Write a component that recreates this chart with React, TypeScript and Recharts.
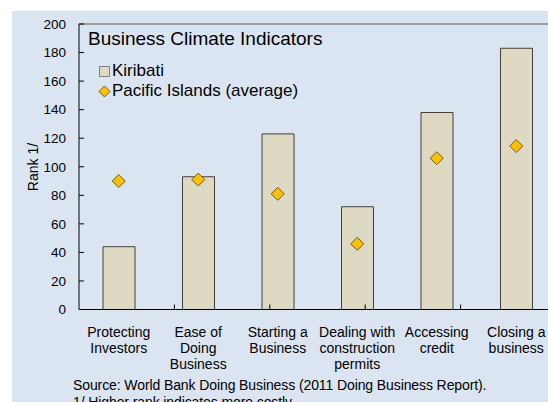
import { ComposedChart, Bar, Line, XAxis, YAxis, ReferenceLine, Legend } from 'recharts'

const categories = [
  'Protecting\nInvestors',
  'Ease of\nDoing\nBusiness',
  'Starting a\nBusiness',
  'Dealing with\nconstruction\npermits',
  'Accessing\ncredit',
  'Closing a\nbusiness',
]
const kiribati = [44, 93, 123, 72, 138, 183]
const pacific = [90, 91, 81, 46, 106, 114.5]
const yTicks = [0, 20, 40, 60, 80, 100, 120, 140, 160, 180, 200]
const boundaries = [1, 2, 3, 4, 5]

const data = categories.map((name, i) => ({ name, kiribati: kiribati[i], pacific: pacific[i] }))

const FONT = '"Liberation Sans", Arial, sans-serif'
const BAR_FILL = '#ddd9c3'
const DIAMOND_FILL = '#ffc000'

const Diamond = ({ cx, cy, r = 6.5 }: { cx?: number; cy?: number; r?: number }) => {
  if (cx == null || cy == null) return null
  return (
    <polygon
      points={`${cx},${cy - r} ${cx + r},${cy} ${cx},${cy + r} ${cx - r},${cy}`}
      fill={DIAMOND_FILL}
      stroke="#6b5a1e"
      strokeWidth={1}
    />
  )
}

// category labels split over several lines
const CatTick = ({ x, y, payload }: any) => {
  const lines = String(payload.value).split('\n')
  return (
    <g>
      {lines.map((l, i) => (
        <text key={i} x={x} y={y + 27 + i * 16.3} textAnchor="middle" fontSize={14} fill="#000" fontFamily={FONT}>
          {l}
        </text>
      ))}
    </g>
  )
}

const LegendBox = () => (
  <div style={{ fontFamily: FONT, fontSize: 17, color: '#000' }}>
    <div style={{ height: 20, lineHeight: '20px', display: 'flex', alignItems: 'center' }}>
      <svg width={14} height={20}>
        <rect x={1.5} y={5.5} width={10} height={10} fill={BAR_FILL} stroke="#808080" />
      </svg>
      <span>Kiribati</span>
    </div>
    <div style={{ height: 20, lineHeight: '20px', display: 'flex', alignItems: 'center' }}>
      <svg width={14} height={20}>
        <Diamond cx={6.5} cy={10.5} r={5.5} />
      </svg>
      <span>Pacific Islands (average)</span>
    </div>
  </div>
)

export default function App() {
  return (
    <div
      style={{
        position: 'absolute', left: 12, top: 11, width: 536, height: 391,
        overflow: 'hidden', background: '#dbe5f1', fontFamily: FONT,
      }}
    >
      <ComposedChart width={560} height={391} data={data} margin={{ top: 13, right: 16, left: 0, bottom: 37.5 }}>
        <XAxis
          dataKey="name"
          interval={0}
          tickLine={false}
          tickSize={0}
          tickMargin={0}
          height={55}
          axisLine={{ stroke: '#000' }}
          tick={<CatTick />}
        />
        <XAxis xAxisId="grid" type="number" domain={[0, 6]} hide />
        <YAxis
          domain={[0, 200]}
          ticks={yTicks}
          interval={0}
          width={67}
          axisLine={{ stroke: '#000' }}
          tickLine={{ stroke: '#000' }}
          tickSize={-5}
          tickMargin={18}
          tick={{ fontSize: 13.5, fill: '#000', fontFamily: FONT }}
        />
        <ReferenceLine y={200} stroke="#595959" />
        {boundaries.map(b => (
          <ReferenceLine
            key={b}
            xAxisId="grid"
            segment={[{ x: b, y: 0 }, { x: b, y: 3.5 }]}
            stroke="#000"
          />
        ))}
        <Legend
          layout="vertical"
          align="center"
          verticalAlign="middle"
          wrapperStyle={{ left: 86, top: 50, width: 'auto' }}
          content={<LegendBox />}
        />
        <Bar dataKey="kiribati" name="Kiribati" fill={BAR_FILL} stroke="#404040" strokeWidth={1} barSize={32} isAnimationActive={false} />
        <Line
          dataKey="pacific"
          name="Pacific Islands (average)"
          stroke="none"
          dot={(p: any) => <Diamond key={p.index} cx={p.cx} cy={p.cy} />}
          activeDot={false}
          isAnimationActive={false}
        />
      </ComposedChart>
      <div style={{ position: 'absolute', left: 76, top: 18, fontSize: 19, lineHeight: '19px', color: '#000', whiteSpace: 'nowrap' }}>
        Business Climate Indicators
      </div>
      <div
        style={{
          position: 'absolute', left: 21, top: 156, fontSize: 14, lineHeight: '14px', color: '#000',
          whiteSpace: 'nowrap', transform: 'translate(-50%, -50%) rotate(-90deg)',
        }}
      >
        Rank 1/
      </div>
      <div style={{ position: 'absolute', left: 61, top: 366, fontSize: 14, lineHeight: '17px', color: '#000', whiteSpace: 'nowrap', letterSpacing: -0.1 }}>
        <div>Source: World Bank Doing Business (2011 Doing Business Report).</div>
        <div>1/ Higher rank indicates more costly.</div>
      </div>
    </div>
  )
}
